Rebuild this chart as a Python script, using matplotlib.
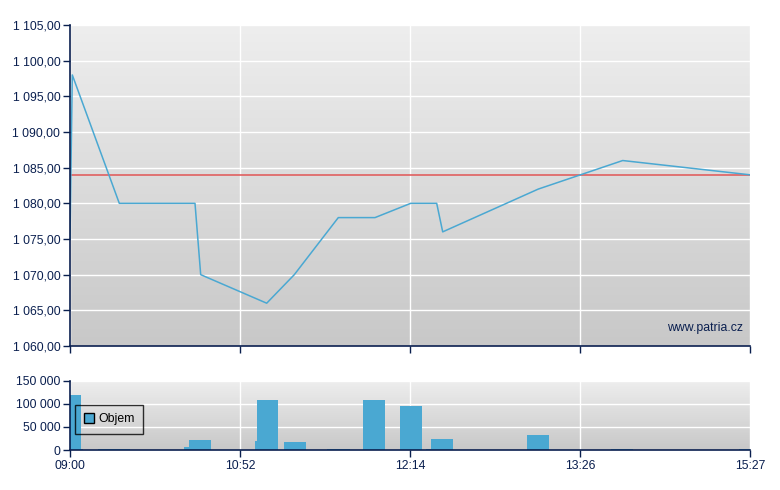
import matplotlib.pyplot as plt
import matplotlib.ticker as mticker
from matplotlib.patches import Patch
from matplotlib.colors import LinearSegmentedColormap
import numpy as np

# price line (x = position along the session axis, 0..680)
price_x = [0, 2.3, 49.3, 125, 130.7, 196.7, 224.3, 268.3, 305, 340.7, 366.7, 372.7, 468.3, 552.7, 680]
price_y = [1075, 1098, 1080, 1080, 1070, 1066, 1070, 1078, 1078, 1080, 1080, 1076, 1082, 1086, 1084]
prev_close = 1084

# volume bars: start, width, volume
vol_x = [0, 11, 28, 114, 119, 185, 186.5, 214, 257, 293, 330, 356, 361, 457, 541, 669]
vol_w = [11, 2, 32, 5, 22, 1.5, 21.5, 22, 23, 22, 22, 5, 22, 22, 22, 11]
vol_y = [118000, 1500, 2000, 6500, 22000, 19000, 107000, 17000, 2000, 107000, 96000, 1500, 24000, 33000, 1500, 1500]

tick_pos = [0, 170, 340, 510, 680]
tick_labels = ['09:00', '10:52', '12:14', '13:26', '15:27']

navy = '#0a1f4f'
line_col = '#4aa8d2'
plt.rcParams['font.family'] = ['Liberation Sans', 'DejaVu Sans']

fig = plt.figure(figsize=[7.8, 4.9], dpi=100)
ax0 = fig.add_axes([70/780, 1-346/490, 680/780, 321/490])
ax1 = fig.add_axes([70/780, 1-450/490, 680/780, 69.5/490])

bg_cmap = LinearSegmentedColormap.from_list('bg', ['#c8c8c8', '#eeeeee'])


def style(ax):
    grad = np.linspace(0, 1, 256).reshape(-1, 1)
    ax.imshow(grad, extent=[0, 1, 0, 1], transform=ax.transAxes, aspect='auto',
              cmap=bg_cmap, origin='lower', zorder=0)
    ax.set_xlim(0, 680)
    for s in ['top', 'right']:
        ax.spines[s].set_visible(False)
    for s in ['left', 'bottom']:
        ax.spines[s].set_color(navy)
        ax.spines[s].set_linewidth(1.2)
        ax.spines[s].set_zorder(5)
    ax.grid(True, color='white', linewidth=1.0, zorder=1)
    ax.tick_params(colors=navy, labelcolor=navy, labelsize=8.8, length=5, width=1,
                   direction='out', pad=2)
    ax.set_xticks(tick_pos)


# price chart
style(ax0)
ax0.set_ylim(1060, 1105)
ax0.set_yticks(np.arange(1060, 1106, 5))
ax0.yaxis.set_major_formatter(mticker.FuncFormatter(
    lambda v, p: '1 {:03d},00'.format(int(round(v)) - 1000)))
ax0.set_xticklabels([])
ax0.axhline(prev_close, color='#e06060', linewidth=1.2, zorder=2)
ax0.plot(price_x, price_y, color=line_col, linewidth=1.1, zorder=3)
ax0.text(0.99, 0.055, 'www.patria.cz', transform=ax0.transAxes, ha='right', va='center',
         color=navy, fontsize=8.8, zorder=4)

# volume chart
style(ax1)
ax1.set_ylim(0, 150000)
ax1.set_yticks([0, 50000, 100000, 150000])
ax1.yaxis.set_major_formatter(mticker.FuncFormatter(
    lambda v, p: '{:,}'.format(int(v)).replace(',', ' ')))
ax1.set_xticklabels(tick_labels)
ax1.bar(vol_x, vol_y, width=vol_w, align='edge', color=line_col, linewidth=0, zorder=3)
leg = ax1.legend(handles=[Patch(facecolor=line_col, edgecolor='black', label='Objem')],
                 loc='upper left', bbox_to_anchor=(0.008, 0.65), fontsize=8.8, frameon=True,
                 fancybox=False, handlelength=0.8, handleheight=0.8, handletextpad=0.35,
                 borderpad=0.7, borderaxespad=0, labelcolor='black')
leg.get_frame().set_facecolor('none')
leg.get_frame().set_edgecolor('black')
leg.get_frame().set_linewidth(1)
leg.set_zorder(6)

fig.savefig('out.png', dpi=100)
